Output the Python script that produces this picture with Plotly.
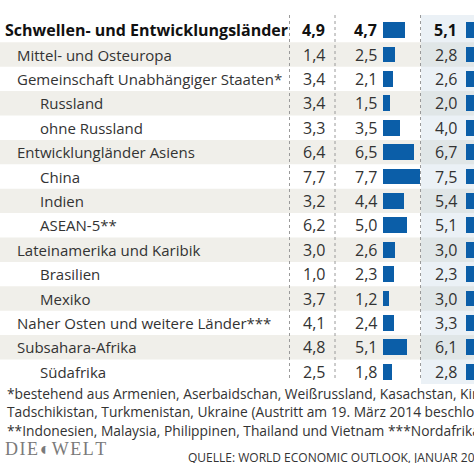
import plotly.graph_objects as go

# ---- data ----
labels = [
    "Schwellen- und Entwicklungsländer",
    "Mittel- und Osteuropa",
    "Gemeinschaft Unabhängiger Staaten*",
    "Russland",
    "ohne Russland",
    "Entwicklungländer Asiens",
    "China",
    "Indien",
    "ASEAN-5**",
    "Lateinamerika und Karibik",
    "Brasilien",
    "Mexiko",
    "Naher Osten und weitere Länder***",
    "Subsahara-Afrika",
    "Südafrika",
]
levels = [-1, 0, 0, 1, 1, 0, 1, 1, 1, 0, 1, 1, 0, 0, 1]
col1 = [4.9, 1.4, 3.4, 3.4, 3.3, 6.4, 7.7, 3.2, 6.2, 3.0, 1.0, 3.7, 4.1, 4.8, 2.5]
col2 = [4.7, 2.5, 2.1, 1.5, 3.5, 6.5, 7.7, 4.4, 5.0, 2.6, 2.3, 1.2, 2.4, 5.1, 1.8]
col3 = [5.1, 2.8, 2.6, 2.0, 4.0, 6.7, 7.5, 5.4, 5.1, 3.0, 2.3, 3.0, 3.3, 6.1, 2.8]
footnotes = [
    "*bestehend aus Armenien, Aserbaidschan, Weißrussland, Kasachstan, Kirgisistan,",
    "Tadschikistan, Turkmenistan, Ukraine (Austritt am 19. März 2014 beschlossen)",
    "**Indonesien, Malaysia, Philippinen, Thailand und Vietnam ***Nordafrika",
]
source = "QUELLE: WORLD ECONOMIC OUTLOOK, JANUAR 2015"
logo = "D\u200aI\u200aE\u200a◐\u200aW\u200aE\u200aL\u200aT"

# ---- layout constants ----
W, H = 474, 463
ROW0, ROWH = 54.5, 24.4          # pixel centre of first data row, row height
PX_PER_UNIT = 4.75
FONT = "Open Sans"
BLUE = "#0b5ea8"
STRIPE = "#f0efea"

rows = [i - 1 for i in range(len(labels))]   # header at -1


def ypx(p):
    return (p - ROW0) / ROWH


def fmt(v):
    return f"{v:.1f}".replace(".", ",")


fig = go.Figure()

fig.add_trace(go.Bar(x=col2, y=rows, orientation="h", xaxis="x", yaxis="y",
                     marker=dict(color=BLUE, line_width=0), width=0.64,
                     hoverinfo="skip"))
fig.add_trace(go.Bar(x=col3, y=rows, orientation="h", xaxis="x2", yaxis="y",
                     marker=dict(color=BLUE, line_width=0), width=0.64,
                     hoverinfo="skip"))

shapes = []
# zebra stripes
for r in rows:
    if r >= 0 and r % 2 == 0:
        shapes.append(dict(type="rect", xref="paper", yref="y", x0=0, x1=1,
                           y0=r - 0.5, y1=r + 0.5, fillcolor=STRIPE,
                           line_width=0, layer="below"))
# right column tint
shapes.append(dict(type="rect", xref="paper", yref="y", x0=421 / W, x1=1,
                   y0=ypx(15), y1=13.5, fillcolor="rgba(190,208,226,0.30)",
                   line_width=0, layer="below"))
# dotted separators
for xp in (289.5, 335, 420.5):
    shapes.append(dict(type="line", xref="paper", yref="y", x0=xp / W, x1=xp / W,
                       y0=ypx(15), y1=ypx(381),
                       line=dict(color="#9a9a9a", width=1, dash="dot"),
                       layer="above"))

ann = []
for lab, lv, r, a, b, c in zip(labels, levels, rows, col1, col2, col3):
    bold = lv < 0
    col = "#111111" if bold else "#333333"
    x_lab = {-1: 3, 0: 15, 1: 38}[lv]
    txt = f"<b>{lab}</b>" if bold else lab
    ann.append(dict(xref="paper", yref="y", x=x_lab / W, y=r, text=txt,
                    xanchor="left", yanchor="middle", showarrow=False,
                    font=dict(family=FONT, size=16 if bold else 15, color=col)))
    for val, xr in ((a, 327), (b, 379), (c, 459)):
        t = fmt(val)
        ann.append(dict(xref="paper", yref="y", x=xr / W, y=r,
                        text=f"<b>{t}</b>" if bold else t,
                        xanchor="right", yanchor="middle", showarrow=False,
                        font=dict(family=FONT, size=16, color=col)))

for i, line in enumerate(footnotes):
    ann.append(dict(xref="paper", yref="paper", x=5 / W, y=1 - (393 + 18.5 * i) / H,
                    text=line, xanchor="left", yanchor="middle", showarrow=False,
                    font=dict(family=FONT, size=13.8, color="#333333")))

ann.append(dict(xref="paper", yref="paper", x=3 / W, y=1 - 449 / H,
                text=logo, xanchor="left", yanchor="middle", showarrow=False,
                font=dict(family="Liberation Serif", size=18, color="#7a7a7a")))
ann.append(dict(xref="paper", yref="paper", x=186 / W, y=1 - 457 / H,
                text=source, xanchor="left", yanchor="middle", showarrow=False,
                font=dict(family=FONT, size=12, color="#333333")))

fig.update_layout(
    width=W, height=H, margin=dict(l=0, r=0, t=0, b=0),
    paper_bgcolor="white", plot_bgcolor="rgba(0,0,0,0)",
    showlegend=False, bargap=0,
    xaxis=dict(domain=[383 / W, 420 / W], range=[0, 37 / PX_PER_UNIT],
               visible=False, fixedrange=True),
    xaxis2=dict(domain=[466 / W, 1], range=[0, 8 / PX_PER_UNIT], anchor="y",
                visible=False, fixedrange=True),
    yaxis=dict(domain=[0, 1], range=[ypx(H), ypx(0)], visible=False,
               fixedrange=True),
    shapes=shapes, annotations=ann,
)

fig.write_html("out.html", config={"displayModeBar": False},
               post_script="document.body.style.margin='0px';")
